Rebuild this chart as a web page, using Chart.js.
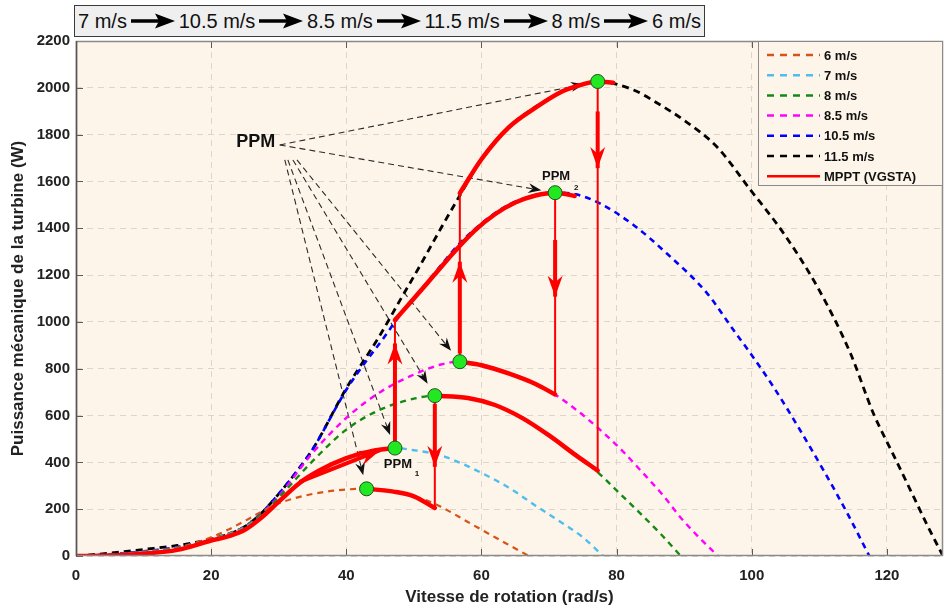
<!DOCTYPE html>
<html>
<head>
<meta charset="utf-8">
<script src="https://cdn.jsdelivr.net/npm/chart.js@4/dist/chart.umd.min.js"></script>
<style>
  html, body { margin: 0; padding: 0; background: #fff; }
  #wrap { position: relative; width: 944px; height: 612px; overflow: hidden; }
  #chart { position: absolute; left: 0; top: 0; }
  #speeds {
    position: absolute; left: 74px; top: 5px; width: 631px; height: 32px; box-sizing: border-box;
    border: 1.5px solid #3a3a3a; background: #efefef; z-index: 2;
    display: flex; align-items: center; justify-content: space-between; padding: 0 3px;
    font: 20px "Liberation Sans", Arial, sans-serif; color: #111; white-space: nowrap;
  }
  #speeds svg { display: block; }
</style>
</head>
<body>
<div id="wrap">
  <div id="speeds"></div>
  <canvas id="chart" width="944" height="612"></canvas>
</div>
<script>
// séquence du vent (bandeau du haut)
const windSequence = ["7 m/s", "10.5 m/s", "8.5 m/s", "11.5 m/s", "8 m/s", "6 m/s"];

// graduations
const xTicks = [0, 20, 40, 60, 80, 100, 120];
const yTicks = [0, 200, 400, 600, 800, 1000, 1200, 1400, 1600, 1800, 2000, 2200];

// courbes de puissance (vitesse de rotation rad/s -> puissance W)
const w6 = [0, 5, 10, 15, 20, 22.5, 25, 27.5, 30, 35, 40, 43, 46, 50, 54, 58, 62, 64.5, 67];
const p6 = [0, 3, 12, 32, 80, 112, 150, 190, 225, 265, 284, 287, 282, 257, 210, 145, 80, 40, 0];

const w7 = [0, 5, 10, 15, 20, 22.5, 25, 27.5, 30, 33, 36, 40, 44, 47.2, 50, 54, 57, 60, 64, 68, 72, 75, 78];
const p7 = [0, 5, 15, 32, 72, 92, 122, 170, 235, 310, 365, 418, 450, 461, 452, 430, 396, 355, 293, 215, 140, 80, 0];

const w8 = [0, 5, 10, 15, 20, 22.5, 25, 27.5, 30, 35, 40, 45, 50, 53.1, 57, 61, 65, 69, 73, 77, 80, 83.5, 86.5, 89.5];
const p8 = [0, 5, 18, 36, 74, 95, 125, 180, 250, 405, 540, 625, 672, 685, 677, 655, 605, 535, 450, 363, 280, 182, 95, 0];

const w85 = [0, 5, 10, 15, 20, 22.5, 25, 27.5, 30, 35, 40, 45, 50, 54, 56.8, 60, 64, 67, 70.6, 74, 77.6, 81, 83.5, 87, 89.4, 92, 95];
const p85 = [0, 6, 19, 37, 74, 95, 126, 182, 255, 440, 590, 700, 775, 818, 830, 818, 780, 745, 695, 625, 538, 445, 367, 255, 167, 85, 0];

const w105 = [0, 5, 10, 15, 20, 22.5, 25, 27.5, 30, 32.5, 35, 40, 43, 45.5, 47.4, 52, 56.8, 60, 62.7, 66, 70.9, 74, 77.6, 82.5, 87.4, 93.4, 97.3, 99.8, 103.2, 107, 110.6, 114, 117.4];
const p105 = [0, 7, 20, 38, 72, 93, 126, 185, 265, 355, 455, 710, 835, 930, 1008, 1170, 1336, 1420, 1478, 1525, 1552, 1545, 1505, 1414, 1293, 1122, 965, 866, 723, 545, 367, 190, 0];

const w115 = [0, 5, 10, 15, 20, 22.5, 25, 27.5, 30, 32.5, 35, 40, 45, 48, 51, 54, 56.8, 60, 64, 68, 72.6, 77.2, 82.5, 86, 89.9, 94.8, 99.8, 104.7, 109.7, 114.6, 118, 121, 124, 126, 128.3];
const p115 = [0, 12, 28, 45, 72, 93, 126, 185, 265, 355, 455, 716, 944, 1095, 1245, 1400, 1540, 1695, 1830, 1918, 1991, 2027, 1991, 1935, 1863, 1749, 1564, 1379, 1150, 866, 609, 430, 250, 130, 0];

// trajectoire MPPT (VGSTA), par tronçons
const mpptAW = [0, 5, 10, 15, 20, 22.5, 25, 27.5, 30, 33, 36, 40, 44, 47.2];
const mpptAP = [0, 2, 10, 26, 66, 84, 112, 165, 232, 310, 365, 418, 450, 461];
const mpptBW = [47.2, 50, 53, 56, 59, 62, 65, 68, 70.9, 73.8];
const mpptBP = [1008, 1100, 1200, 1300, 1390, 1460, 1510, 1540, 1552, 1538];
const mpptCW = [56.8, 60, 64, 68, 70.9];
const mpptCP = [830, 815, 780, 735, 690];
const mpptDW = [56.8, 60, 64, 68, 72, 75, 77.2, 79.5];
const mpptDP = [1550, 1695, 1830, 1915, 1985, 2015, 2027, 2022];
const mpptEW = [53.1, 58, 62, 66, 70, 74, 77.2];
const mpptEP = [685, 675, 645, 590, 515, 430, 365];
const mpptFW = [43, 47, 50, 53.1];
const mpptFP = [287, 275, 255, 205];
// sauts verticaux (changement de vitesse du vent)
const jumpW = [47.2, 70.9, 56.8, 77.2, 53.1];
const jumpFromP = [461, 1552, 830, 2027, 685];
const jumpToP = [1008, 690, 1550, 365, 205];

// points de puissance maximale (PPM)
const ppmW = [43, 47.2, 53.1, 56.8, 70.9, 77.2];
const ppmP = [287, 461, 685, 830, 1552, 2027];

// départs des flèches "PPM" (un par PPM)
const ppmFromW = [30.9, 31.35, 32.1, 32.7, 30.15, 30.15];
const ppmFromP = [1692, 1692, 1692, 1692, 1756, 1756];

// flèches rouges sur la trajectoire (queue -> pointe)
const arrowFromW = [33.1, 47.2, 56.8, 70.9, 77.2, 53.1];
const arrowFromP = [317, 490, 865, 1350, 1899, 650];
const arrowToW = [45, 47.2, 56.8, 70.9, 77.2, 53.1];
const arrowToP = [452, 908, 1257, 1108, 1657, 381];

// bandeau
const speeds = document.getElementById("speeds");
const arrowSvg = '<svg width="44" height="16"><line x1="0" y1="8" x2="30" y2="8" stroke="#000" stroke-width="3.5"/><path d="M24 0.5 L44 8 L24 15.5 L28 8 Z" fill="#000"/></svg>';
speeds.innerHTML = windSequence.map(s => "<span>" + s + "</span>").join(arrowSvg);

const FONT = '"Liberation Sans", Arial, sans-serif';
const RED = "#ff0000";
const pts = (w, p) => w.map((x, i) => ({ x: x, y: p[i] }));

function curve(label, w, p, color, width, dash) {
    return {
        label: label, data: pts(w, p), showLine: true, borderColor: color, backgroundColor: color,
        borderWidth: width, borderDash: dash, pointRadius: 0, cubicInterpolationMode: "monotone", order: 2
    };
}

function redLeg(label, w, p) {
    return {
        label: label, data: pts(w, p), showLine: true, borderColor: RED, backgroundColor: RED,
        borderWidth: 4.5, borderDash: [], pointRadius: 0, cubicInterpolationMode: "monotone",
        borderCapStyle: "round", order: 1
    };
}

const jumps = jumpW.map((w, i) => ({
    label: "", data: [{ x: w, y: jumpFromP[i] }, { x: w, y: jumpToP[i] }], showLine: true,
    borderColor: RED, backgroundColor: RED, borderWidth: 2, borderDash: [], pointRadius: 0, order: 1
}));

function arrowHead(ctx, x0, y0, x1, y1, L, W, color) {
    const a = Math.atan2(y1 - y0, x1 - x0);
    ctx.save();
    ctx.translate(x1, y1);
    ctx.rotate(a);
    ctx.beginPath();
    ctx.moveTo(0, 0);
    ctx.lineTo(-L, W / 2);
    ctx.lineTo(-L * 0.68, 0);
    ctx.lineTo(-L, -W / 2);
    ctx.closePath();
    ctx.fillStyle = color;
    ctx.fill();
    ctx.restore();
}

const decor = {
    id: "decor",
    beforeDraw(chart) {
        const { ctx, chartArea: a } = chart;
        ctx.save();
        ctx.fillStyle = "#fff";
        ctx.fillRect(0, 0, chart.width, chart.height);
        ctx.fillStyle = "#fdf5e9";
        ctx.fillRect(a.left, a.top, a.right - a.left, a.bottom - a.top);
        ctx.restore();
    },
    beforeDatasetsDraw(chart) {
        const { ctx, scales: { x, y } } = chart;
        ctx.save();
        // flèches pointillées "PPM"
        for (let i = 0; i < ppmW.length; i++) {
            const x0 = x.getPixelForValue(ppmFromW[i]), y0 = y.getPixelForValue(ppmFromP[i]);
            const cx = x.getPixelForValue(ppmW[i]), cy = y.getPixelForValue(ppmP[i]);
            const d = Math.hypot(cx - x0, cy - y0);
            const tx = cx - (cx - x0) / d * 14, ty = cy - (cy - y0) / d * 14;
            ctx.strokeStyle = "#2a2a2a";
            ctx.lineWidth = 1.1;
            ctx.setLineDash([6, 4]);
            ctx.beginPath();
            ctx.moveTo(x0, y0);
            ctx.lineTo(tx - (cx - x0) / d * 6, ty - (cy - y0) / d * 6);
            ctx.stroke();
            ctx.setLineDash([]);
            arrowHead(ctx, x0, y0, tx, ty, 13, 10, "#111");
        }
        ctx.restore();
    },
    afterDatasetsDraw(chart) {
        const { ctx, chartArea: a, scales: { x, y } } = chart;
        ctx.save();
        ctx.beginPath();
        ctx.rect(a.left, a.top, a.right - a.left, a.bottom - a.top);
        ctx.clip();

        // flèches rouges
        for (let i = 0; i < arrowFromW.length; i++) {
            const x0 = x.getPixelForValue(arrowFromW[i]), y0 = y.getPixelForValue(arrowFromP[i]);
            const x1 = x.getPixelForValue(arrowToW[i]), y1 = y.getPixelForValue(arrowToP[i]);
            ctx.strokeStyle = RED;
            ctx.lineWidth = 4;
            ctx.beginPath();
            ctx.moveTo(x0, y0);
            ctx.lineTo(x1, y1);
            ctx.stroke();
            arrowHead(ctx, x0, y0, x1, y1, 21, 15, RED);
        }

        // points PPM
        for (let i = 0; i < ppmW.length; i++) {
            ctx.beginPath();
            ctx.arc(x.getPixelForValue(ppmW[i]), y.getPixelForValue(ppmP[i]), 7, 0, Math.PI * 2);
            ctx.fillStyle = "#22e822";
            ctx.fill();
            ctx.lineWidth = 1;
            ctx.strokeStyle = "#1f4f1f";
            ctx.stroke();
        }

        // textes
        ctx.fillStyle = "#111";
        ctx.textAlign = "center";
        ctx.textBaseline = "middle";
        const lx = x.getPixelForValue(ppmFromW[5]), ly = y.getPixelForValue(ppmFromP[5]);
        ctx.font = "bold 18px " + FONT;
        ctx.fillText("PPM", lx - 24, ly - 3);
        const p2x = x.getPixelForValue(ppmW[4]), p2y = y.getPixelForValue(ppmP[4]);
        ctx.font = "bold 13px " + FONT;
        ctx.fillText("PPM", p2x + 1, p2y - 16);
        ctx.font = "bold 8px " + FONT;
        ctx.fillText("2", p2x + 21, p2y - 5);
        const p1x = x.getPixelForValue(ppmW[1]), p1y = y.getPixelForValue(ppmP[1]);
        ctx.font = "bold 13px " + FONT;
        ctx.fillText("PPM", p1x + 3, p1y + 16);
        ctx.font = "bold 8px " + FONT;
        ctx.fillText("1", p1x + 22, p1y + 26);
        ctx.restore();

        // cadre et graduations intérieures
        ctx.save();
        ctx.strokeStyle = "#5a5a5a";
        ctx.lineWidth = 1;
        xTicks.forEach(v => {
            const px = Math.round(x.getPixelForValue(v)) + 0.5;
            ctx.beginPath();
            ctx.moveTo(px, a.bottom); ctx.lineTo(px, a.bottom - 7);
            ctx.moveTo(px, a.top); ctx.lineTo(px, a.top + 7);
            ctx.stroke();
        });
        yTicks.forEach(v => {
            const py = Math.round(y.getPixelForValue(v)) + 0.5;
            ctx.beginPath();
            ctx.moveTo(a.left, py); ctx.lineTo(a.left + 7, py);
            ctx.stroke();
        });
        ctx.strokeStyle = "#8a8a8a";
        ctx.lineWidth = 1.5;
        ctx.strokeRect(a.left + 0.5, a.top + 0.5, a.right - a.left - 1, a.bottom - a.top - 1);
        ctx.strokeStyle = "#555";
        ctx.beginPath();
        ctx.moveTo(a.left + 0.5, a.top); ctx.lineTo(a.left + 0.5, a.bottom);
        ctx.stroke();

        // légende
        const bx = 758, by = 41, bw = a.right - bx, bh = 145;
        ctx.fillStyle = "#fdf5e9";
        ctx.fillRect(bx, by, bw, bh);
        ctx.strokeStyle = "#8a8a8a";
        ctx.lineWidth = 1;
        ctx.strokeRect(bx + 0.5, by + 0.5, bw - 1, bh - 1);
        ctx.font = "bold 13px " + FONT;
        ctx.textAlign = "left";
        ctx.textBaseline = "middle";
        chart.data.datasets.filter(ds => ds.label).forEach((ds, i) => {
            const ry = by + 14 + i * 20.2;
            ctx.strokeStyle = ds.borderColor;
            ctx.lineWidth = 2.5;
            ctx.setLineDash(ds.borderDash.length ? [7, 6] : []);
            ctx.beginPath();
            ctx.moveTo(767, ry); ctx.lineTo(820, ry);
            ctx.stroke();
            ctx.setLineDash([]);
            ctx.fillStyle = "#111";
            ctx.fillText(ds.label, 824, ry + 1);
        });
        ctx.restore();
    }
};

const chart = new Chart(document.getElementById("chart"), {
    type: "scatter",
    data: {
        datasets: [
            curve("6 m/s", w6, p6, "#d95319", 2.2, [6, 5]),
            curve("7 m/s", w7, p7, "#4dbeee", 2.4, [6, 5]),
            curve("8 m/s", w8, p8, "#138a13", 2.4, [6, 5]),
            curve("8.5 m/s", w85, p85, "#ff00ff", 2.4, [6, 5]),
            curve("10.5 m/s", w105, p105, "#0000ff", 2.6, [6, 5]),
            curve("11.5 m/s", w115, p115, "#000000", 2.8, [7, 5]),
            redLeg("MPPT (VGSTA)", mpptAW, mpptAP),
            redLeg("", mpptBW, mpptBP),
            redLeg("", mpptCW, mpptCP),
            redLeg("", mpptDW, mpptDP),
            redLeg("", mpptEW, mpptEP),
            redLeg("", mpptFW, mpptFP),
            ...jumps
        ]
    },
    options: {
        responsive: false,
        animation: false,
        layout: { padding: { top: 41, right: 1, left: 0, bottom: 0 } },
        plugins: { legend: { display: false }, tooltip: { enabled: false } },
        scales: {
            x: {
                type: "linear", min: 0, max: 128.3,
                afterBuildTicks: s => { s.ticks = xTicks.map(v => ({ value: v })); },
                afterFit: s => { s.height = 56; },
                grid: { color: "#dcd5ca", lineWidth: 1, drawTicks: false },
                border: { display: false, dash: [6, 5] },
                ticks: { color: "#222", padding: 11, maxRotation: 0, font: { family: FONT, size: 15, weight: "bold" }, callback: v => v },
                title: { display: true, text: "Vitesse de rotation (rad/s)", color: "#222", font: { family: FONT, size: 17, weight: "bold" }, padding: { top: 0, bottom: 4 } }
            },
            y: {
                type: "linear", min: 0, max: 2200,
                afterBuildTicks: s => { s.ticks = yTicks.map(v => ({ value: v })); },
                afterFit: s => { s.width = 76; },
                grid: { color: "#dcd5ca", lineWidth: 1, drawTicks: false },
                border: { display: false, dash: [6, 5] },
                ticks: { color: "#222", padding: 6, font: { family: FONT, size: 15, weight: "bold" }, callback: v => v },
                title: { display: true, text: "Puissance mécanique de la turbine (W)", color: "#222", font: { family: FONT, size: 17, weight: "bold" }, padding: { top: 8, bottom: 0 } }
            }
        }
    },
    plugins: [decor]
});
</script>
</body>
</html>
